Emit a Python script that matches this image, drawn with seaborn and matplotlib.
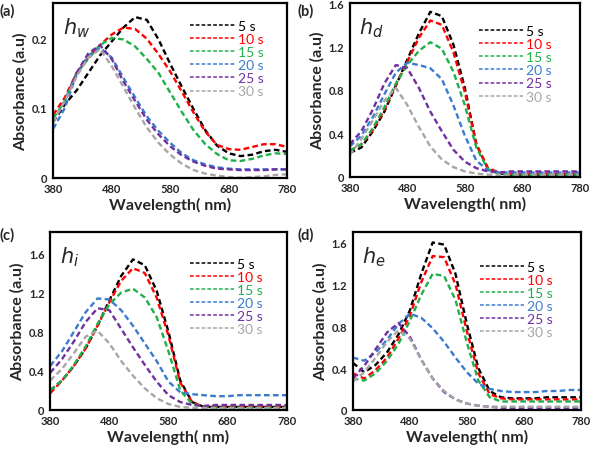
import pandas as pd
import seaborn as sns
import matplotlib.pyplot as plt
from matplotlib.ticker import FuncFormatter

wavelength = list(range(380, 781, 20))
times = ['5 s', '10 s', '15 s', '20 s', '25 s', '30 s']
colors = ['#000000', '#ff0000', '#1fb04b', '#3a7bd0', '#7030a0', '#a6a6a6']

# panel (a) h_w
hw_5 = [0.080, 0.105, 0.125, 0.150, 0.175, 0.195, 0.215, 0.230, 0.226, 0.198, 0.163, 0.130, 0.098,
        0.068, 0.046, 0.035, 0.031, 0.033, 0.038, 0.040, 0.037]
hw_10 = [0.090, 0.115, 0.150, 0.172, 0.190, 0.205, 0.215, 0.213, 0.199, 0.177, 0.152, 0.123, 0.093,
         0.066, 0.047, 0.041, 0.040, 0.044, 0.048, 0.048, 0.044]
hw_15 = [0.085, 0.110, 0.150, 0.170, 0.190, 0.200, 0.198, 0.188, 0.170, 0.150, 0.122, 0.094, 0.068,
         0.048, 0.034, 0.025, 0.024, 0.027, 0.032, 0.035, 0.034]
hw_20 = [0.070, 0.100, 0.148, 0.175, 0.186, 0.172, 0.143, 0.115, 0.088, 0.067, 0.050, 0.035, 0.025,
         0.019, 0.015, 0.013, 0.012, 0.012, 0.012, 0.012, 0.012]
hw_25 = [0.080, 0.110, 0.150, 0.178, 0.190, 0.170, 0.138, 0.110, 0.083, 0.062, 0.045, 0.032, 0.023,
         0.017, 0.013, 0.012, 0.011, 0.011, 0.011, 0.012, 0.012]
hw_30 = [0.080, 0.110, 0.145, 0.172, 0.184, 0.160, 0.130, 0.100, 0.072, 0.050, 0.033, 0.020, 0.011,
         0.006, 0.003, 0.001, 0.000, 0.001, 0.002, 0.004, 0.005]

# panel (b) h_d
hd_5 = [0.22, 0.27, 0.42, 0.60, 0.84, 1.08, 1.32, 1.52, 1.48, 1.22, 0.82, 0.30, 0.08, 0.03, 0.02,
        0.02, 0.02, 0.02, 0.02, 0.02, 0.02]
hd_10 = [0.24, 0.30, 0.43, 0.62, 0.85, 1.06, 1.28, 1.44, 1.40, 1.15, 0.78, 0.30, 0.08, 0.04, 0.03,
         0.03, 0.03, 0.03, 0.03, 0.03, 0.03]
hd_15 = [0.24, 0.30, 0.45, 0.64, 0.86, 1.03, 1.16, 1.24, 1.18, 0.97, 0.66, 0.27, 0.07, 0.03, 0.02,
         0.02, 0.02, 0.02, 0.02, 0.02, 0.02]
hd_20 = [0.28, 0.38, 0.55, 0.76, 0.96, 1.05, 1.03, 1.00, 0.90, 0.66, 0.38, 0.15, 0.06, 0.04, 0.04,
         0.04, 0.04, 0.04, 0.04, 0.04, 0.04]
hd_25 = [0.30, 0.42, 0.62, 0.86, 1.03, 1.00, 0.82, 0.60, 0.42, 0.25, 0.14, 0.08, 0.05, 0.04, 0.05,
         0.05, 0.05, 0.05, 0.05, 0.05, 0.05]
hd_30 = [0.20, 0.35, 0.52, 0.70, 0.82, 0.66, 0.46, 0.28, 0.16, 0.09, 0.05, 0.03, 0.02, 0.02, 0.02,
         0.02, 0.02, 0.02, 0.02, 0.02, 0.02]

# panel (c) h_i
hi_5 = [0.20, 0.30, 0.45, 0.63, 0.86, 1.12, 1.37, 1.54, 1.48, 1.22, 0.80, 0.30, 0.08, 0.03, 0.03,
        0.03, 0.03, 0.03, 0.03, 0.03, 0.03]
hi_10 = [0.17, 0.30, 0.45, 0.63, 0.86, 1.10, 1.32, 1.45, 1.40, 1.15, 0.76, 0.28, 0.08, 0.03, 0.03,
         0.03, 0.03, 0.03, 0.03, 0.03, 0.03]
hi_15 = [0.20, 0.30, 0.46, 0.65, 0.88, 1.08, 1.20, 1.24, 1.15, 0.95, 0.60, 0.20, 0.06, 0.03, 0.02,
         0.02, 0.02, 0.02, 0.02, 0.02, 0.02]
hi_20 = [0.45, 0.60, 0.80, 1.00, 1.14, 1.13, 1.02, 0.86, 0.68, 0.50, 0.29, 0.18, 0.16, 0.15, 0.14,
         0.14, 0.15, 0.15, 0.15, 0.15, 0.15]
hi_25 = [0.38, 0.52, 0.70, 0.90, 1.04, 1.02, 0.83, 0.64, 0.46, 0.29, 0.15, 0.08, 0.05, 0.04, 0.05,
         0.05, 0.05, 0.05, 0.05, 0.05, 0.05]
hi_30 = [0.30, 0.42, 0.58, 0.75, 0.81, 0.68, 0.50, 0.35, 0.22, 0.12, 0.06, 0.03, 0.02, 0.02, 0.02,
         0.02, 0.02, 0.02, 0.02, 0.02, 0.02]

# panel (d) h_e
he_5 = [0.45, 0.36, 0.43, 0.55, 0.72, 0.95, 1.30, 1.60, 1.58, 1.30, 0.82, 0.40, 0.18, 0.12, 0.11,
        0.11, 0.11, 0.12, 0.12, 0.12, 0.12]
he_10 = [0.35, 0.30, 0.38, 0.50, 0.68, 0.90, 1.22, 1.47, 1.46, 1.20, 0.75, 0.35, 0.15, 0.11, 0.10,
         0.10, 0.10, 0.10, 0.10, 0.10, 0.10]
he_15 = [0.30, 0.28, 0.35, 0.47, 0.63, 0.85, 1.10, 1.30, 1.28, 1.05, 0.64, 0.28, 0.12, 0.08, 0.08,
         0.08, 0.08, 0.08, 0.08, 0.08, 0.08]
he_20 = [0.50, 0.47, 0.55, 0.67, 0.82, 0.92, 0.88, 0.78, 0.65, 0.50, 0.36, 0.25, 0.20, 0.18, 0.17,
         0.17, 0.17, 0.18, 0.18, 0.19, 0.19]
he_25 = [0.30, 0.42, 0.58, 0.74, 0.83, 0.70, 0.48, 0.30, 0.17, 0.10, 0.06, 0.04, 0.03, 0.02, 0.02,
         0.02, 0.02, 0.02, 0.02, 0.02, 0.02]
he_30 = [0.27, 0.36, 0.50, 0.65, 0.76, 0.68, 0.48, 0.30, 0.18, 0.10, 0.06, 0.04, 0.03, 0.03, 0.03,
         0.03, 0.03, 0.03, 0.03, 0.03, 0.03]

panels = [
    ('(a)', 'w', [hw_5, hw_10, hw_15, hw_20, hw_25, hw_30], 0.25, [0, 0.1, 0.2]),
    ('(b)', 'd', [hd_5, hd_10, hd_15, hd_20, hd_25, hd_30], 1.6, [0, 0.4, 0.8, 1.2, 1.6]),
    ('(c)', 'i', [hi_5, hi_10, hi_15, hi_20, hi_25, hi_30], 1.82, [0, 0.4, 0.8, 1.2, 1.6]),
    ('(d)', 'e', [he_5, he_10, he_15, he_20, he_25, he_30], 1.7, [0, 0.4, 0.8, 1.2, 1.6]),
]

# axes boxes in figure fractions [left, bottom, width, height]
boxes = [
    [0.090, 0.608, 0.396, 0.383],
    [0.592, 0.610, 0.389, 0.381],
    [0.085, 0.099, 0.400, 0.390],
    [0.597, 0.099, 0.386, 0.390],
]
label_pos = [(0.0, 0.975), (0.503, 0.975), (0.0, 0.485), (0.503, 0.485)]
legend_anchor = [(0.94, 0.96), (0.92, 0.93), (0.94, 0.91), (0.92, 0.893)]

sns.set_style("white")
plt.rcParams['font.family'] = ['Lato', 'DejaVu Sans']
plt.rcParams['mathtext.fontset'] = 'dejavusans'

fig = plt.figure(figsize=(5.91, 4.56), dpi=100)
palette = dict(zip(times, colors))

for (tag, sub, series, ymax, yticks), box, lp, la in zip(panels, boxes, label_pos, legend_anchor):
    ax = fig.add_axes(box)
    df = pd.DataFrame({
        'Wavelength': wavelength * len(times),
        'Absorbance': [v for s in series for v in s],
        'Time': [t for t in times for _ in wavelength],
    })
    sns.lineplot(data=df, x='Wavelength', y='Absorbance', hue='Time', style='Time',
                 palette=palette, dashes={t: (2.4, 1.4) for t in times},
                 linewidth=1.7, ax=ax)
    ax.set_xlim(380, 780)
    ax.set_ylim(0, ymax)
    ax.set_xticks([380, 480, 580, 680, 780])
    ax.set_yticks(yticks)
    ax.yaxis.set_major_formatter(FuncFormatter(lambda v, p: f'{v:g}'))
    ax.tick_params(length=0, labelsize=8, pad=4)
    for lab in ax.get_xticklabels() + ax.get_yticklabels():
        lab.set_fontweight('bold')
    for sp in ax.spines.values():
        sp.set_linewidth(1.6)
        sp.set_color('black')
    ax.set_xlabel('Wavelength( nm)', fontsize=11.5, fontweight='bold', labelpad=2)
    ax.set_ylabel('Absorbance (a.u)', fontsize=11.5, fontweight='bold', labelpad=3)
    ax.text(0.04, 0.93, f'$h_{sub}$', transform=ax.transAxes, fontsize=15,
            va='top', ha='left')
    leg = ax.legend(frameon=False, loc='upper right', bbox_to_anchor=la,
                    handlelength=3.2, handletextpad=0.2, labelspacing=0.08,
                    fontsize=10, labelcolor='linecolor', borderaxespad=0.3)
    for h in leg.get_lines():
        h.set_linewidth(1.1)
    fig.text(lp[0], lp[1], tag, fontsize=10.5, fontweight='bold', ha='left', va='center')

plt.savefig('out.png', dpi=100)
plt.close()
